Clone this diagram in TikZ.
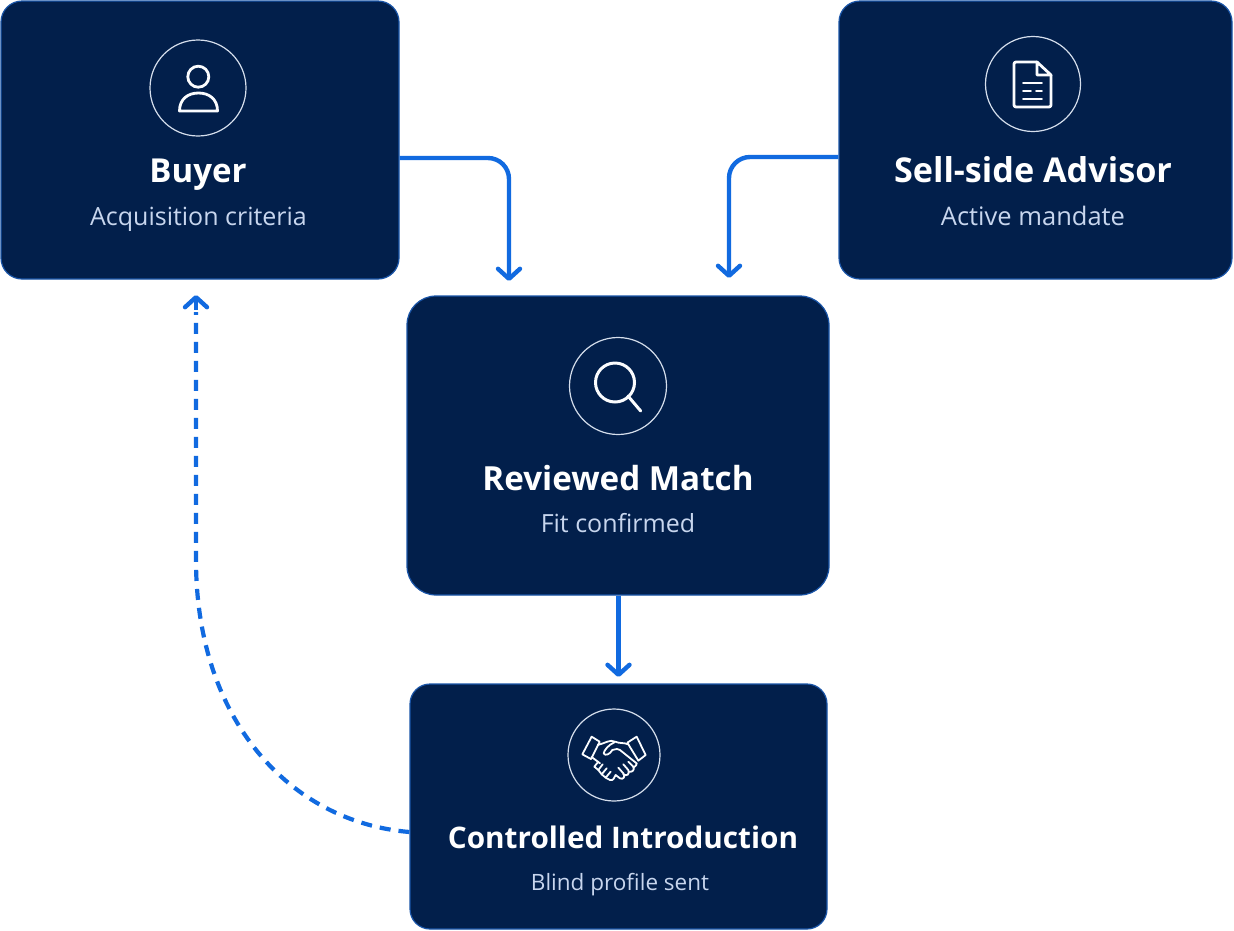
\documentclass[tikz,border=0pt]{standalone}
\usepackage{fontspec}
\setmainfont{Open Sans}
\usetikzlibrary{arrows.meta}
\definecolor{cardfill}{HTML}{021F4B}
\definecolor{cardedge}{HTML}{1A55A8}
\definecolor{flow}{HTML}{116AE0}
\definecolor{subtxt}{HTML}{C8D6EE}
\definecolor{ringc}{HTML}{D5DEEC}
\tikzset{
 x=1pt,y=-1pt,
 card/.style={draw=cardedge,line width=1.2pt,fill=cardfill,inner sep=0pt},
 headtxt/.style={text=white,inner sep=0pt,anchor=base},
 subtext/.style={text=subtxt,inner sep=0pt,anchor=base},
 ring/.style={draw=ringc,line width=1.2pt,circle,inner sep=0pt,fill=none},
 glyph/.style={draw=white!92!subtxt,line width=2.8pt,line join=round,line cap=round},
 thin glyph/.style={draw=white!92!subtxt,line width=1.8pt,line join=round,line cap=round},
 flowline/.style={draw=flow,line width=4.4pt,-{Straight Barb[length=10pt,width=22pt,line width=4.4pt,round]}},
}
\newcommand{\hdfont}[1]{\fontsize{#1}{36}\selectfont\bfseries}
\newcommand{\sbfont}[1]{\fontsize{#1}{28}\selectfont}
\begin{document}
\begin{tikzpicture}
\useasboundingbox (0,0) rectangle (1234,930);
\path[fill=white] (0,0) rectangle (1234,930);
% cards
\node[card,minimum width=398pt,minimum height=278pt,rounded corners=21pt] (buyer) at (200,140) {};
\node[card,minimum width=393pt,minimum height=278pt,rounded corners=21pt] (seller) at (1035.5,140) {};
\node[card,minimum width=422pt,minimum height=299pt,rounded corners=29pt] (match) at (618,445.5) {};
\node[card,minimum width=417pt,minimum height=245pt,rounded corners=20pt] (intro) at (618.5,806.5) {};
% rings
\node[ring,minimum size=96pt] (r1) at (198,88) {};
\node[ring,minimum size=95pt] (r2) at (1033,84) {};
\node[ring,minimum size=97pt] (r3) at (618,386) {};
\node[ring,minimum size=92pt] (r4) at (614,755) {};
% texts
\node[headtxt,font=\hdfont{33}] (t1) at (198,182) {Buyer};
\node[subtext,font=\sbfont{25}] (s1) at (198.5,225) {Acquisition criteria};
\node[headtxt,font=\hdfont{34.2}] (t2) at (1033,182) {Sell-side Advisor};
\node[subtext,font=\sbfont{25.5}] (s2) at (1033,225) {Active mandate};
\node[headtxt,font=\hdfont{33.2}] (t3) at (618,490) {Reviewed Match};
\node[subtext,font=\sbfont{25}] (s3) at (618,532) {Fit confirmed};
\node[headtxt,font=\hdfont{29.7}] (t4) at (623,848) {Controlled Introduction};
\node[subtext,font=\sbfont{22.5}] (s4) at (620,890) {Blind profile sent};
% person icon
\draw[glyph] (198.3,76.7) circle (10.5);
\draw[glyph] (179.5,111) -- (217.5,111) .. controls (217.5,99) and (209,93) .. (198.5,93) .. controls (188,93) and (179.5,99) .. (179.5,111) -- cycle;
% document icon
\draw[glyph,rounded corners=2pt] (1037,62) -- (1014,62) -- (1014,107) -- (1051,107) -- (1051,75);
\draw[glyph] (1037,62) -- (1051,75) -- (1037,75) -- cycle;
\draw[thin glyph] (1023,83) -- (1042,83);
\draw[thin glyph] (1023,91) -- (1031,91);
\draw[thin glyph] (1036,91) -- (1042,91);
\draw[thin glyph] (1023,99) -- (1042,99);
% magnifier icon
\draw[glyph,line width=3pt] (615,382.5) circle (19.5);
\draw[glyph,line width=3pt] (628,396) -- (640.7,411);
% handshake icon
\begin{scope}[shift={(555,695)},x=0.3333pt,y=-0.3333pt,thin glyph]
\draw (82,178) -- (110,125) -- (134,140) -- (108,192) -- cycle;
\draw (272,180) -- (245,125) -- (217,143) -- (250,197) -- cycle;
\draw (128,150) .. controls (150,145) and (165,132) .. (180,140) .. controls (195,146) and (205,142) .. (220,148);
\draw (178,142) .. controls (160,150) and (148,165) .. (146,175) .. controls (150,184) and (165,178) .. (172,165) .. controls (185,162) and (190,160) .. (195,165) -- (245,205);
\draw (110,186) -- (135,205);
\draw (235,218) .. controls (243,214) and (246,208) .. (245,205);
\draw (130,200) -- (118,215) -- (130,225) -- (143,208);
\draw (130,225) -- (140,238) -- (155,220);
\draw (140,238) -- (152,248) -- (167,230);
\draw (152,248) -- (165,255) .. controls (175,258) and (178,248) .. (182,240);
\draw (182,240) -- (195,250) .. controls (205,255) and (212,245) .. (205,235) -- (190,218);
\draw (205,238) .. controls (215,245) and (225,238) .. (220,225) -- (205,208);
\draw (222,230) .. controls (232,232) and (240,225) .. (235,215) -- (220,200);
\end{scope}
% connectors
\coordinate (a1) at (buyer.east |- 0,158);
\coordinate (a2) at (509,281);
\draw[flowline,rounded corners=21pt] (a1) -- (509,158) -- (a2);
\coordinate (b1) at (seller.west |- 0,157);
\coordinate (b2) at (729,278);
\draw[flowline,rounded corners=21pt] (b1) -- (729,157) -- (b2);
\coordinate (c2) at (618.5,677);
\draw[flowline] (match.south -| c2) -- (c2);
\coordinate (d1) at (intro.west |- 0,832);
\coordinate (d2) at (196,295);
\draw[draw=flow,line width=4.2pt,dash pattern=on 11pt off 8pt] (d1) .. controls (290,822) and (196,720) .. (196,560) -- (196,312);
\draw[draw=flow,line width=4.4pt,{Straight Barb[length=10pt,width=22pt,line width=4.4pt,round]}-] (d2) -- (196,310);
\end{tikzpicture}
\end{document}
